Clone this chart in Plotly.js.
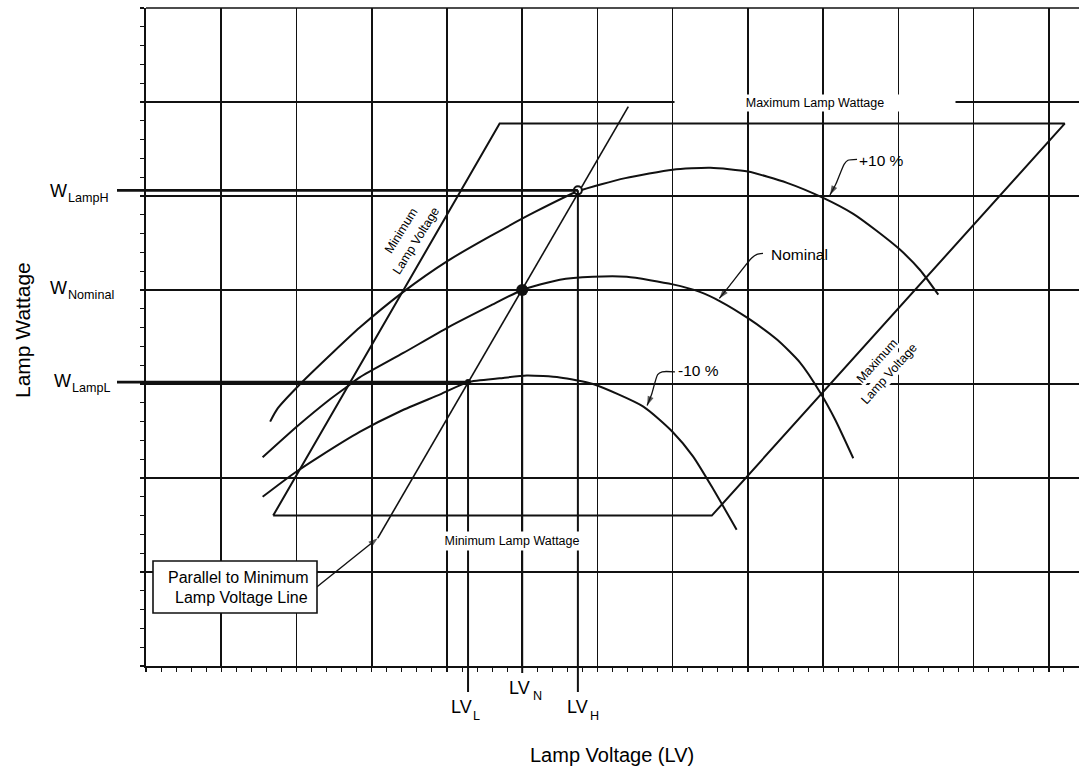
<!DOCTYPE html>
<html><head><meta charset="utf-8">
<script src="https://cdn.plot.ly/plotly-3.0.1.min.js"></script>
<style>html,body{margin:0;padding:0;background:#fff;}#chart{width:1079px;height:770px;}</style>
</head><body><div id="chart"></div>
<script>
// ---- data (in grid units) ----
const plus10X = [1.65,1.75,2.05,2.49,2.84,3.42,4.01,4.57,5.17,5.74,6.37,7.00,7.50,8.00,8.52,9.00,9.40,9.71,10.02,10.29,10.53];
const plus10Y = [2.60,2.74,3.00,3.34,3.60,3.98,4.31,4.57,4.83,5.05,5.19,5.28,5.30,5.26,5.14,4.98,4.81,4.63,4.43,4.21,3.95];
const nominalX = [1.55,2.01,2.45,2.67,2.84,3.42,4.01,4.57,5.00,5.50,5.94,6.39,7.00,7.36,7.63,8.00,8.39,8.69,8.96,9.16,9.40];
const nominalY = [2.22,2.55,2.84,2.97,3.07,3.33,3.60,3.83,4.00,4.11,4.14,4.14,4.06,3.98,3.88,3.70,3.47,3.23,2.91,2.62,2.21];
const minus10X = [1.55,1.95,2.31,2.84,3.38,3.91,4.28,4.70,5.06,5.50,5.94,6.61,7.00,7.27,7.54,7.85];
const minus10Y = [1.80,2.04,2.23,2.49,2.71,2.89,3.02,3.06,3.09,3.07,3.00,2.76,2.49,2.23,1.88,1.45];
const envelopeX = [1.69,4.70,12.21,7.52,1.69];
const envelopeY = [1.60,5.77,5.77,1.60,1.60];
const parallelX = [3.08,6.41];
const parallelY = [1.36,5.95];
const LV_L = 4.28, LV_N = 5.00, LV_H = 5.74;
const W_L = 3.02, W_N = 4.00, W_H = 5.06;
const leaderP10X = [9.45,9.33,9.28,9.17,9.09], leaderP10Y = [5.39,5.38,5.34,5.13,5.01];
const leaderNomX = [8.20,8.12,8.05,7.76,7.62], leaderNomY = [4.39,4.38,4.34,4.05,3.91];
const leaderM10X = [7.03,6.86,6.80,6.72,6.66], leaderM10Y = [3.13,3.13,3.10,2.89,2.77];
const pointerX = [2.27,3.08], pointerY = [0.84,1.36];
const xTitle = 'Lamp Voltage (LV)', yTitle = 'Lamp Wattage';
const wLabels = ['LampH', 'Nominal', 'LampL'];
const lvLabels = ['L', 'N', 'H'];
const boxLines = ['Parallel to Minimum', 'Lamp Voltage Line'];
const maxVoltLines = ['Maximum', 'Lamp Voltage'];
const minVoltLines = ['Minimum', 'Lamp Voltage'];

// ---- layout helpers ----
const W = 1079, H = 770, ML = 146, MT = 8, MB = 104, MR = 0;
const PW = W - ML - MR, PH = H - MT - MB;
const XMAX = 12.4, YMAX = 7;
const UX = PW / XMAX, UY = PH / YMAX;
const px = p => (p - ML) / PW;          // pixel x -> paper
const py = p => (H - MB - p) / PH;      // pixel y -> paper
const dx = p => (p - ML) / UX;          // pixel x -> data
const dy = p => (H - MB - p) / UY;      // pixel y -> data
const FONT = 'Liberation Sans, Arial, Helvetica, sans-serif';
const BLK = '#111';

const lineTrace = (x, y, w, spline) => ({
  x, y, type: 'scatter', mode: 'lines', hoverinfo: 'skip', showlegend: false,
  line: {color: BLK, width: w, shape: spline ? 'spline' : 'linear', smoothing: 0.6}
});
const arrowTrace = (x, y, w, spline) => Object.assign(lineTrace(x, y, w, spline), {
  mode: 'lines+markers',
  marker: {symbol: 'arrow', angleref: 'previous', color: BLK,
           size: x.map((v, i) => i === x.length - 1 ? 10 : 0), line: {width: 0}}
});

const traces = [
  lineTrace(envelopeX, envelopeY, 2, false),
  lineTrace(parallelX, parallelY, 1.6, false),
  lineTrace(plus10X, plus10Y, 2, true),
  lineTrace(nominalX, nominalY, 2, true),
  lineTrace(minus10X, minus10Y, 2, true),
  arrowTrace(leaderP10X, leaderP10Y, 1.3, true),
  arrowTrace(leaderNomX, leaderNomY, 1.3, true),
  arrowTrace(leaderM10X, leaderM10Y, 1.3, true),
  arrowTrace(pointerX, pointerY, 1.4, false),
  {x: [LV_H], y: [W_H], type: 'scatter', mode: 'markers', showlegend: false, hoverinfo: 'skip',
   marker: {symbol: 'circle', size: 8, color: '#fff', line: {color: BLK, width: 2}}},
  {x: [LV_N], y: [W_N], type: 'scatter', mode: 'markers', showlegend: false, hoverinfo: 'skip',
   marker: {symbol: 'circle', size: 12, color: BLK}},
  {x: [LV_L], y: [W_L], type: 'scatter', mode: 'markers', showlegend: false, hoverinfo: 'skip',
   marker: {symbol: 'circle', size: 6, color: BLK}}
];

const shapes = [
  {type: 'line', xref: 'paper', yref: 'paper', x0: 0, x1: 1, y0: 1, y1: 1, line: {color: BLK, width: 1.5}},
  {type: 'line', xref: 'paper', yref: 'y', x0: px(117), x1: LV_H / XMAX, y0: W_H, y1: W_H, line: {color: BLK, width: 2.6}},
  {type: 'line', xref: 'paper', yref: 'y', x0: px(117), x1: LV_L / XMAX, y0: W_L, y1: W_L, line: {color: BLK, width: 2.6}},
  {type: 'line', xref: 'x', yref: 'paper', x0: LV_L, x1: LV_L, y0: py(692), y1: W_L / YMAX, line: {color: BLK, width: 2}},
  {type: 'line', xref: 'x', yref: 'paper', x0: LV_H, x1: LV_H, y0: py(692), y1: W_H / YMAX, line: {color: BLK, width: 2}},
  {type: 'line', xref: 'x', yref: 'paper', x0: LV_N, x1: LV_N, y0: py(673), y1: W_N / YMAX, line: {color: BLK, width: 2}},
  // note box
  {type: 'rect', xref: 'paper', yref: 'paper', x0: px(153), x1: px(317), y0: py(613), y1: py(561),
   fillcolor: '#fff', line: {color: BLK, width: 1.6}}
];

const f = (s) => ({family: FONT, size: s, color: '#000'});
const txt = (o) => Object.assign({showarrow: false, font: f(12), xanchor: 'center', yanchor: 'middle'}, o);
const pp = (x, y) => ({xref: 'paper', yref: 'paper', x: px(x), y: py(y)});
const dd = (x, y) => ({xref: 'x', yref: 'y', x: dx(x), y: dy(y)});

const annotations = [
  txt(Object.assign({text: xTitle, font: f(20)}, pp(612, 755))),
  txt(Object.assign({text: yTitle, textangle: -90, font: f(21)}, pp(22, 330))),
  // W labels: main letter + subscript
  txt({text: 'W', xref: 'paper', yref: 'y', x: px(48), y: W_H, yshift: -1, xanchor: 'left', font: f(18)}),
  txt({text: wLabels[0], xref: 'paper', yref: 'y', x: px(66), y: W_H, yshift: -8, xanchor: 'left', font: f(12.6)}),
  txt({text: 'W', xref: 'paper', yref: 'y', x: px(48), y: W_N, yshift: 2, xanchor: 'left', font: f(18)}),
  txt({text: wLabels[1], xref: 'paper', yref: 'y', x: px(66), y: W_N, yshift: -5, xanchor: 'left', font: f(12.6)}),
  txt({text: 'W', xref: 'paper', yref: 'y', x: px(52), y: W_L, yshift: 1, xanchor: 'left', font: f(18)}),
  txt({text: wLabels[2], xref: 'paper', yref: 'y', x: px(70), y: W_L, yshift: -6, xanchor: 'left', font: f(12.6)}),
  // LV labels: main + subscript
  txt({text: 'LV', xref: 'x', yref: 'paper', x: LV_L, xshift: -7, y: py(707), font: f(18)}),
  txt({text: lvLabels[0], xref: 'x', yref: 'paper', x: LV_L, xshift: 8, y: py(716), font: f(12.6)}),
  txt({text: 'LV', xref: 'x', yref: 'paper', x: LV_N, xshift: -3, y: py(688), font: f(18)}),
  txt({text: lvLabels[1], xref: 'x', yref: 'paper', x: LV_N, xshift: 15, y: py(696), font: f(12.6)}),
  txt({text: 'LV', xref: 'x', yref: 'paper', x: LV_H, xshift: 0, y: py(707), font: f(18)}),
  txt({text: lvLabels[2], xref: 'x', yref: 'paper', x: LV_H, xshift: 17, y: py(716), font: f(12.6)}),
  // envelope labels
  txt(Object.assign({text: 'Maximum Lamp Wattage', width: 280, height: 16, bgcolor: '#fff', borderpad: 0, font: f(12.5)}, dd(815, 103))),
  txt(Object.assign({text: 'Minimum Lamp Wattage', width: 166, height: 18, bgcolor: '#fff', borderpad: 0, font: f(12.5)}, dd(512, 541))),
  txt(Object.assign({text: maxVoltLines[0], textangle: -48, bgcolor: '#fff', borderpad: 0, font: f(12.5)}, dd(877, 361))),
  txt(Object.assign({text: maxVoltLines[1], textangle: -48, bgcolor: '#fff', borderpad: 0, font: f(12.5)}, dd(889, 374))),
  txt(Object.assign({text: minVoltLines[0], textangle: -58, bgcolor: '#fff', borderpad: 0, font: f(12.5)}, dd(401, 231))),
  txt(Object.assign({text: minVoltLines[1], textangle: -58, bgcolor: '#fff', borderpad: 0, font: f(12.5)}, dd(416, 241))),
  // curve labels
  txt(Object.assign({text: '+10 %', xanchor: 'left', font: f(15.5)}, dd(857, 160))),
  txt(Object.assign({text: 'Nominal', xanchor: 'left', font: f(15.5)}, dd(769, 254))),
  txt(Object.assign({text: '-10 %', xanchor: 'left', font: f(15.5)}, dd(676, 370))),
  // note box text (right aligned)
  txt(Object.assign({text: boxLines[0], xanchor: 'right', font: f(16)}, pp(310, 577))),
  txt(Object.assign({text: boxLines[1], xanchor: 'right', font: f(16)}, pp(310, 597)))
];

const axisCommon = {
  showgrid: true, gridcolor: BLK, gridwidth: 1.6, zeroline: false,
  showline: true, linecolor: BLK, linewidth: 2,
  ticks: 'outside', ticklen: 4, tickwidth: 1.2, tickcolor: BLK,
  showticklabels: false, dtick: 1, tick0: 0, fixedrange: true,
  minor: {dtick: 0.2, ticks: 'outside', ticklen: 4, tickwidth: 1, tickcolor: BLK, showgrid: false}
};

const layout = {
  width: W, height: H,
  margin: {l: ML, r: MR, t: MT, b: MB, pad: 0},
  paper_bgcolor: '#fff', plot_bgcolor: '#fff',
  font: {family: FONT, color: '#000'},
  xaxis: Object.assign({}, axisCommon, {range: [0, XMAX]}),
  yaxis: Object.assign({}, axisCommon, {range: [0, YMAX]}),
  shapes, annotations, showlegend: false
};

Plotly.newPlot('chart', traces, layout, {staticPlot: true, displayModeBar: false});
</script></body></html>
